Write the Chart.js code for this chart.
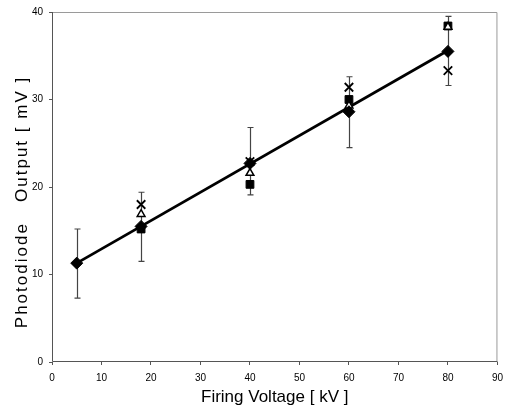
<!DOCTYPE html>
<html>
<head>
<meta charset="utf-8">
<script src="https://cdn.jsdelivr.net/npm/chart.js@4/dist/chart.umd.min.js"></script>
<style>
  html, body { margin: 0; padding: 0; background: #fff; }
  #wrap { width: 510px; height: 408px; }
</style>
</head>
<body>
<div id="wrap"><canvas id="chart" width="510" height="408"></canvas></div>
<script>
/* ===== data ===== */
const voltage   = [5, 18, 40, 60, 80];          // kV
const diamondV  = [11.3, 15.5, 22.7, 28.6, 35.5];
const squareV   = [null, 15.2, 20.3, 30.0, 38.4];
const triangleV = [null, 16.9, 21.6, 29.3, 38.3];
const crossV    = [null, 18.0, 22.9, 31.4, 33.3];
const errHigh   = [15.2, 19.4, 26.8, 32.6, 39.5];
const errLow    = [7.3, 11.5, 19.1, 24.5, 31.6];
const fitX      = [5, 80];
const fitY      = [11.3, 35.6];
const xTicks    = [0, 10, 20, 30, 40, 50, 60, 70, 80, 90];
const yTicks    = [0, 10, 20, 30, 40];
const xTitle    = "Firing Voltage [ kV ]";
const yTitle    = "Photodiode   Output [ mV ]";

const pts = (ys) => voltage.map((x, i) => ({ x, y: ys[i] })).filter(p => p.y !== null);

/* ===== small plugins: frame, error bars, y title ===== */
const frame = {
  id: "frame",
  beforeDatasetsDraw(chart) {
    const { ctx, chartArea: a, scales } = chart;
    ctx.save();
    ctx.lineWidth = 1;
    ctx.strokeStyle = "#9a9a9a";
    ctx.beginPath();
    ctx.moveTo(a.left, a.top + .5); ctx.lineTo(a.right - .5, a.top + .5);
    ctx.lineTo(a.right - .5, a.bottom);
    ctx.stroke();
    ctx.strokeStyle = "#555";
    ctx.beginPath();
    ctx.moveTo(a.left + .5, a.top); ctx.lineTo(a.left + .5, a.bottom - .5);
    ctx.lineTo(a.right, a.bottom - .5);
    ctx.stroke();

    // error bars
    ctx.strokeStyle = "#444";
    ctx.lineWidth = 1.2;
    voltage.forEach((v, i) => {
      const x = Math.round(scales.x.getPixelForValue(v)) + .5;
      const y1 = scales.y.getPixelForValue(errHigh[i]);
      const y2 = scales.y.getPixelForValue(errLow[i]);
      ctx.beginPath();
      ctx.moveTo(x, y1); ctx.lineTo(x, y2);
      ctx.moveTo(x - 3, y1); ctx.lineTo(x + 3, y1);
      ctx.moveTo(x - 3, y2); ctx.lineTo(x + 3, y2);
      ctx.stroke();
    });
    ctx.restore();
  },
  afterDraw(chart) {
    const { ctx, chartArea: a } = chart;
    ctx.save();
    ctx.font = "17px 'Liberation Sans', Arial, sans-serif";
    ctx.letterSpacing = "2px";
    ctx.fillStyle = "#000";
    ctx.textAlign = "center";
    ctx.textBaseline = "middle";
    ctx.translate(22, (a.top + a.bottom) / 2 + 15);
    ctx.rotate(-Math.PI / 2);
    ctx.fillText(yTitle, 0, 0);
    ctx.restore();
  }
};

/* ===== chart ===== */
const ctx = document.getElementById("chart").getContext("2d");
new Chart(ctx, {
  type: "scatter",
  data: {
    datasets: [
      {
        label: "diamond",
        data: pts(diamondV),
        pointStyle: "rectRot",
        pointRadius: 6,
        backgroundColor: "#000",
        borderColor: "#000",
        borderWidth: 1
      },
      {
        label: "triangle",
        data: pts(triangleV),
        pointStyle: "triangle",
        pointRadius: 4.5,
        backgroundColor: "#fff",
        borderColor: "#000",
        borderWidth: 1.5
      },
      {
        label: "square",
        data: pts(squareV),
        pointStyle: "rect",
        pointRadius: 5.5,
        backgroundColor: "#000",
        borderColor: "#000",
        borderWidth: 1
      },
      {
        label: "cross",
        data: pts(crossV),
        pointStyle: "crossRot",
        pointRadius: 6,
        backgroundColor: "#000",
        borderColor: "#000",
        borderWidth: 1.8
      },
      {
        label: "fit",
        type: "line",
        data: fitX.map((x, i) => ({ x, y: fitY[i] })),
        borderColor: "#000",
        borderWidth: 2.8,
        pointRadius: 0,
        fill: false,
        tension: 0
      }
    ]
  },
  options: {
    responsive: false,
    animation: false,
    layout: { padding: { left: 0, top: 10, right: 10, bottom: 0 } },
    plugins: { legend: { display: false }, tooltip: { enabled: false } },
    scales: {
      x: {
        type: "linear",
        min: 0, max: 90,
        afterBuildTicks: s => { s.ticks = xTicks.map(v => ({ value: v })); },
        afterFit: s => { s.height = 46; },
        border: { display: false },
        grid: { drawOnChartArea: false, tickLength: 3, color: "#555" },
        ticks: { color: "#000", padding: 7, font: { family: "'Liberation Sans', Arial", size: 10 } },
        title: {
          display: true, text: xTitle, color: "#000",
          padding: { top: 0, bottom: 0 },
          font: { family: "'Liberation Sans', Arial", size: 17 }
        }
      },
      y: {
        type: "linear",
        min: 0, max: 40,
        afterBuildTicks: s => { s.ticks = yTicks.map(v => ({ value: v })); },
        afterFit: s => { s.width = 52; },
        border: { display: false },
        grid: { drawOnChartArea: false, tickLength: 3, color: "#555" },
        ticks: { color: "#000", padding: 6, font: { family: "'Liberation Sans', Arial", size: 10 } }
      }
    }
  },
  plugins: [frame]
});
</script>
</body>
</html>
